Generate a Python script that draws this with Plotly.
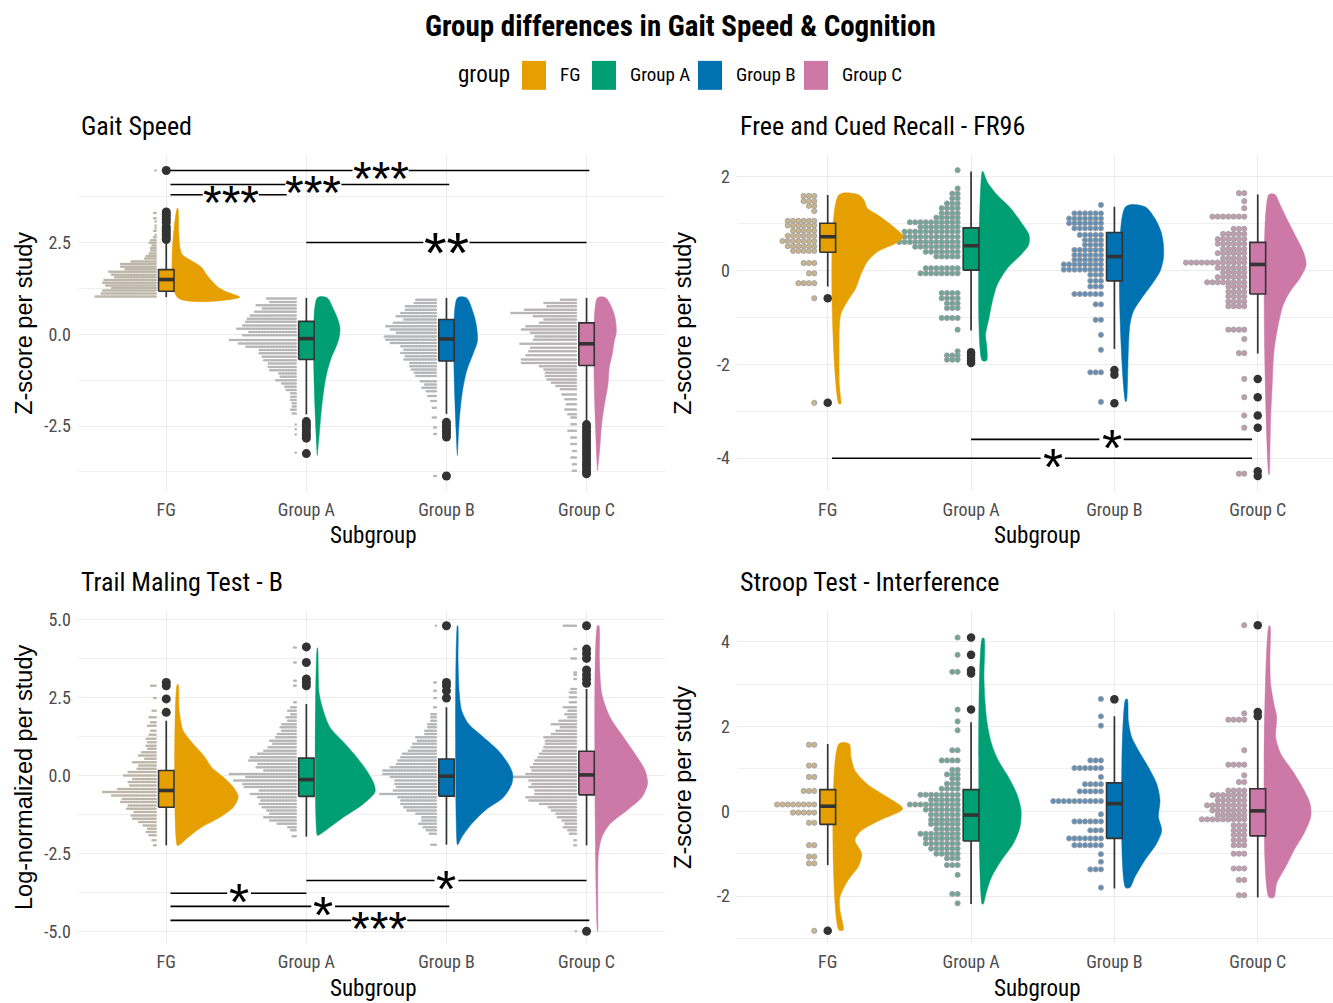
import plotly.graph_objects as go

W, H = 1333, 1003
GROUPS = ["FG", "Group A", "Group B", "Group C"]
GROUP_COLORS = ["#E69F00", "#009E73", "#0072B2", "#CC79A7"]
DENSE_DOT_COLORS = ["#bdb6a8", "#b6b6b6", "#b4b6b9", "#b9b4b6"]
DOT_FILLS = ["#c9b48c", "#6ea596", "#5f8fb8", "#c29cb0"]

# ---------------- Gait Speed ----------------
# box stats: lower whisker, q1, median, q3, upper whisker
GAIT_BOX = {
    "FG": [1.01, 1.17, 1.49, 1.76, 2.52],
    "Group A": [-2.18, -0.69, -0.12, 0.35, 0.99],
    "Group B": [-2.17, -0.73, -0.13, 0.40, 0.99],
    "Group C": [-2.41, -0.85, -0.26, 0.31, 0.99],
}
GAIT_OUT = {
    "FG": [2.58, 2.65, 2.72, 2.79, 2.86, 2.93, 3.05, 3.13, 3.20, 3.27, 3.33, 4.46],
    "Group A": [-2.38, -2.45, -2.52, -2.60, -2.68, -2.75, -2.83, -3.25],
    "Group B": [-2.40, -2.48, -2.56, -2.64, -2.72, -2.80, -3.86],
    "Group C": [-2.46, -2.55, -2.64, -2.73, -2.82, -2.91, -3.00, -3.09, -3.18,
                -3.27, -3.36, -3.45, -3.54, -3.63, -3.72, -3.80],
}
GAIT_VIO_Y = {
    "FG": [3.43, 2.71, 2.35, 2.17, 2.07, 1.94, 1.80, 1.62, 1.44, 1.30, 1.17, 1.01],
    "Group A": [0.99, 0.71, 0.44, 0.17, -0.10, -0.37, -0.64, -1.01, -1.37, -1.82, -2.27, -2.73, -3.00, -3.30],
    "Group B": [0.99, 0.62, 0.26, -0.19, -0.55, -1.00, -1.55, -2.27, -3.00, -3.30],
    "Group C": [0.99, 0.54, 0.08, -0.19, -0.55, -0.91, -1.37, -1.82, -2.45, -3.18, -3.72],
}
GAIT_VIO_D = {
    "FG": [0.005, 0.012, 0.02, 0.036, 0.071, 0.13, 0.18, 0.21, 0.25, 0.286, 0.343, 0.448],
    "Group A": [0.071, 0.112, 0.143, 0.162, 0.155, 0.131, 0.10, 0.071, 0.052, 0.036, 0.024, 0.014, 0.007, 0.0],
    "Group B": [0.066, 0.11, 0.135, 0.143, 0.11, 0.066, 0.036, 0.015, 0.004, 0.0],
    "Group C": [0.06, 0.12, 0.135, 0.12, 0.105, 0.084, 0.075, 0.054, 0.03, 0.015, 0.0],
}
GAIT_DOT_Y = {
    "FG": [1.03, 1.11, 1.19, 1.26, 1.33, 1.40, 1.48, 1.55, 1.62, 1.70, 1.77, 1.84, 1.91, 1.98, 2.06,
           2.13, 2.20, 2.28, 2.35, 2.42, 2.49, 2.56, 2.64, 2.71, 2.82, 2.89, 2.96, 3.07, 3.16, 3.30, 4.46],
    "Group A": [0.97, 0.88, 0.79, 0.70, 0.61, 0.51, 0.42, 0.34, 0.24, 0.15, 0.06, -0.03, -0.16, -0.25,
                -0.34, -0.43, -0.52, -0.61, -0.71, -0.80, -0.89, -0.98, -1.07, -1.16, -1.25, -1.34,
                -1.43, -1.52, -1.61, -1.70, -1.79, -1.88, -1.97, -2.06, -2.16, -2.46, -2.59, -2.73, -3.23],
    "Group B": [0.94, 0.85, 0.76, 0.67, 0.58, 0.49, 0.40, 0.31, 0.22, 0.13, 0.04, -0.06, -0.15, -0.24,
                -0.33, -0.42, -0.51, -0.60, -0.69, -0.78, -0.87, -0.96, -1.05, -1.14, -1.28, -1.37,
                -1.46, -1.55, -1.68, -1.82, -2.00, -2.27, -2.54, -2.72, -3.86],
    "Group C": [0.94, 0.85, 0.76, 0.67, 0.58, 0.49, 0.40, 0.31, 0.22, 0.13, 0.04, -0.06, -0.15, -0.26,
                -0.37, -0.46, -0.57, -0.69, -0.78, -0.87, -0.96, -1.05, -1.14, -1.23, -1.32, -1.41,
                -1.50, -1.64, -1.77, -1.91, -2.05, -2.18, -2.27, -2.45, -2.63, -2.81, -2.99, -3.18,
                -3.36, -3.54, -3.72],
}
GAIT_DOT_N = {
    "FG": [41, 37, 36, 30, 34, 36, 35, 28, 30, 32, 21, 24, 24, 17, 8, 7, 5, 4, 4, 3, 5, 4, 2, 1, 2, 1, 1, 1, 2, 2, 1],
    "Group A": [20, 18, 27, 23, 28, 31, 33, 34, 36, 40, 32, 36, 45, 39, 34, 25, 25, 23, 22, 19, 19, 18,
                12, 11, 14, 10, 8, 7, 4, 4, 4, 3, 3, 4, 3, 1, 1, 1, 1],
    "Group B": [14, 15, 21, 21, 24, 27, 22, 29, 34, 31, 27, 35, 34, 31, 24, 22, 24, 21, 22, 18, 18, 17,
                15, 14, 11, 8, 10, 7, 6, 4, 3, 3, 2, 2, 2],
    "Group C": [11, 22, 20, 35, 44, 29, 22, 25, 34, 37, 31, 28, 29, 38, 31, 32, 34, 37, 37, 25, 22, 21,
                21, 20, 17, 14, 11, 10, 8, 7, 8, 6, 4, 4, 6, 4, 4, 3, 4, 3, 3],
}
# comparisons: (x from, x to, y, label, label x)
GAIT_TESTS = [(1.03, 4.02, 4.46, "***", 2.53), (1.03, 3.02, 4.08, "***", 2.05),
              (1.03, 1.86, 3.80, "***", 1.46), (2.0, 4.0, 2.5, "**", 3.0)]

# ---------------- Free and Cued Recall ----------------
FR_BOX = {
    "FG": [-0.34, 0.39, 0.72, 1.01, 1.61],
    "Group A": [-1.28, 0.01, 0.53, 0.91, 2.11],
    "Group B": [-1.67, -0.22, 0.30, 0.81, 1.36],
    "Group C": [-1.77, -0.50, 0.13, 0.60, 1.62],
}
FR_OUT = {
    "FG": [-0.59, -2.82],
    "Group A": [-1.74, -1.80, -1.86, -1.92, -1.97],
    "Group B": [-2.12, -2.22, -2.83],
    "Group C": [-2.31, -2.70, -3.09, -3.35, -4.28, -4.38],
}
FR_VIO_Y = {
    "FG": [1.61, 1.50, 1.33, 1.19, 1.01, 0.83, 0.72, 0.58, 0.40, 0.19, -0.09, -0.38, -0.66, -0.94,
           -1.23, -1.72, -2.43, -2.79, -2.84],
    "Group A": [2.11, 1.89, 1.61, 1.33, 1.04, 0.76, 0.55, 0.33, 0.05, -0.30, -0.66, -1.01, -1.37,
                -1.58, -1.79, -1.92],
    "Group B": [1.36, 1.11, 0.83, 0.55, 0.26, -0.02, -0.30, -0.59, -0.87, -1.16, -1.72, -2.29, -2.79],
    "Group C": [1.62, 1.41, 1.11, 0.76, 0.40, 0.12, -0.16, -0.45, -0.73, -1.16, -1.72, -2.43, -3.14,
                -3.85, -4.35],
}
FR_VIO_D = {
    "FG": [0.14, 0.175, 0.198, 0.268, 0.35, 0.42, 0.45, 0.396, 0.268, 0.198, 0.152, 0.117, 0.058,
           0.012, 0.003, 0.001, 0.003, 0.014, 0.014],
    "Group A": [0.005, 0.035, 0.105, 0.198, 0.268, 0.326, 0.324, 0.268, 0.175, 0.105, 0.07, 0.047,
                0.023, 0.03, 0.035, 0.03],
    "Group B": [0.135, 0.205, 0.247, 0.264, 0.264, 0.24, 0.182, 0.112, 0.054, 0.03, 0.019, 0.014, 0.005],
    "Group C": [0.042, 0.077, 0.124, 0.182, 0.24, 0.259, 0.217, 0.147, 0.10, 0.065, 0.035, 0.023,
                0.012, 0.007, 0.002],
}
FR_DOT_Y = {
    "FG": [1.59, 1.48, 1.38, 1.27, 1.06, 0.96, 0.85, 0.74, 0.63, 0.52, 0.42, 0.16, -0.06, -0.27, -0.59, -2.82],
    "Group A": [2.14, 1.75, 1.64, 1.54, 1.43, 1.33, 1.22, 1.13, 1.03, 0.93, 0.83, 0.72, 0.61, 0.51,
                0.40, 0.30, 0.05, -0.06, -0.48, -0.59, -0.70, -0.80, -1.01, -1.26, -1.72, -1.81, -1.90],
    "Group B": [1.40, 1.22, 1.11, 1.01, 0.90, 0.76, 0.65, 0.55, 0.44, 0.33, 0.23, 0.13, 0.02, -0.09,
                -0.22, -0.34, -0.50, -0.72, -1.05, -1.37, -1.69, -2.17, -2.80],
    "Group C": [1.65, 1.48, 1.33, 1.15, 0.89, 0.78, 0.67, 0.57, 0.46, 0.37, 0.26, 0.17, 0.06, -0.04,
                -0.14, -0.25, -0.34, -0.45, -0.55, -0.66, -0.76, -1.26, -1.46, -1.76, -2.31, -2.70,
                -3.09, -3.35, -4.33],
}
FR_DOT_N = {
    "FG": [3, 3, 2, 1, 6, 6, 5, 6, 7, 6, 5, 3, 2, 4, 1, 1],
    "Group A": [1, 1, 2, 2, 3, 4, 4, 5, 10, 8, 11, 11, 12, 9, 7, 5, 7, 8, 4, 4, 3, 3, 4, 1, 1, 3, 3],
    "Group B": [1, 6, 7, 7, 6, 5, 4, 4, 6, 6, 6, 8, 8, 3, 3, 3, 6, 2, 2, 1, 1, 3, 1],
    "Group C": [2, 1, 1, 7, 3, 5, 6, 6, 5, 6, 5, 12, 6, 5, 6, 8, 4, 4, 4, 4, 4, 4, 1, 2, 1, 1, 1, 1, 2],
}
FR_TESTS = [(2.0, 3.96, -3.60, "*", 2.98), (1.03, 3.96, -4.0, "*", 2.57)]

# ---------------- Trail Making Test - B ----------------
TMT_BOX = {
    "FG": [-2.24, -1.02, -0.48, 0.16, 1.76],
    "Group A": [-1.96, -0.67, -0.13, 0.56, 2.30],
    "Group B": [-2.22, -0.66, -0.02, 0.53, 2.19],
    "Group C": [-2.24, -0.62, 0.02, 0.78, 2.78],
}
TMT_OUT = {
    "FG": [2.03, 2.46, 2.88, 2.99],
    "Group A": [4.13, 3.63, 3.10, 2.99, 2.88],
    "Group B": [4.81, 2.99, 2.88, 2.72, 2.49],
    "Group C": [4.81, 4.06, 3.92, 3.76, 3.39, 3.24, 3.10, 2.96, -5.0],
}
TMT_VIO_Y = {
    "FG": [2.92, 2.10, 1.44, 1.02, 0.59, 0.27, -0.05, -0.37, -0.69, -1.02, -1.34, -1.66, -1.98, -2.24],
    "Group A": [4.10, 2.62, 2.08, 1.55, 1.02, 0.59, 0.16, -0.27, -0.53, -0.91, -1.34, -1.66, -1.92],
    "Group B": [4.81, 3.69, 2.62, 2.08, 1.66, 1.23, 0.80, 0.37, 0.05, -0.27, -0.70, -1.12, -1.55, -1.98, -2.22],
    "Group C": [4.81, 3.69, 2.62, 1.87, 1.23, 0.69, 0.16, -0.27, -0.70, -1.12, -1.55, -1.98, -2.51,
                -3.04, -4.0, -5.0],
}
TMT_VIO_D = {
    "FG": [0.007, 0.014, 0.043, 0.114, 0.198, 0.245, 0.329, 0.40, 0.436, 0.40, 0.305, 0.174, 0.079, 0.01],
    "Group A": [0.002, 0.014, 0.043, 0.09, 0.198, 0.281, 0.352, 0.405, 0.412, 0.329, 0.186, 0.09, 0.007],
    "Group B": [0.003, 0.005, 0.014, 0.031, 0.079, 0.186, 0.293, 0.364, 0.395, 0.388, 0.329, 0.198,
                0.102, 0.031, 0.003],
    "Group C": [0.01, 0.014, 0.031, 0.09, 0.186, 0.269, 0.34, 0.357, 0.317, 0.21, 0.09, 0.031, 0.007,
                0.003, 0.002, 0.001],
}
TMT_DOT_Y = {
    "FG": [2.88, 2.49, 2.08, 1.87, 1.71, 1.60, 1.44, 1.31, 1.18, 1.07, 0.96, 0.86, 0.75, 0.64, 0.54,
           0.43, 0.32, 0.22, 0.11, 0.0, -0.11, -0.21, -0.32, -0.43, -0.53, -0.64, -0.75, -0.85, -0.96,
           -1.07, -1.17, -1.28, -1.39, -1.49, -1.60, -1.71, -1.81, -1.92, -2.08, -2.24],
    "Group A": [4.11, 3.63, 3.04, 2.88, 2.35, 2.19, 2.08, 1.97, 1.87, 1.76, 1.65, 1.55, 1.44, 1.33,
                1.23, 1.12, 1.02, 0.91, 0.80, 0.70, 0.59, 0.48, 0.37, 0.27, 0.16, 0.05, -0.05, -0.16,
                -0.27, -0.37, -0.48, -0.59, -0.70, -0.80, -0.91, -1.02, -1.12, -1.23, -1.34, -1.44,
                -1.55, -1.66, -1.76, -1.95],
    "Group B": [4.81, 2.99, 2.72, 2.49, 2.19, 1.97, 1.87, 1.76, 1.65, 1.55, 1.44, 1.33, 1.23, 1.12,
                1.02, 0.91, 0.80, 0.70, 0.59, 0.48, 0.37, 0.27, 0.16, 0.05, -0.05, -0.16, -0.27, -0.37,
                -0.48, -0.59, -0.70, -0.80, -0.91, -1.02, -1.12, -1.23, -1.34, -1.44, -1.55, -1.66,
                -1.76, -1.87, -2.22],
    "Group C": [4.81, 4.06, 3.76, 3.31, 3.24, 3.10, 2.78, 2.67, 2.51, 2.35, 2.19, 2.08, 1.97, 1.87,
                1.76, 1.65, 1.55, 1.44, 1.33, 1.23, 1.12, 1.02, 0.91, 0.80, 0.70, 0.59, 0.48, 0.37,
                0.27, 0.16, 0.05, -0.05, -0.16, -0.27, -0.37, -0.48, -0.59, -0.70, -0.80, -0.91,
                -1.02, -1.12, -1.23, -1.34, -1.44, -1.55, -1.66, -1.76, -1.87, -2.08, -2.24, -5.0],
}
TMT_DOT_N = {
    "FG": [4, 2, 3, 5, 4, 6, 4, 5, 7, 6, 7, 6, 10, 12, 8, 16, 12, 13, 19, 22, 16, 19, 18, 26, 36, 30,
           23, 24, 19, 20, 15, 17, 16, 12, 9, 6, 7, 5, 3, 2],
    "Group A": [2, 2, 2, 2, 2, 4, 6, 4, 7, 6, 10, 11, 10, 13, 14, 18, 16, 19, 22, 26, 31, 32, 26, 27,
                22, 45, 34, 42, 36, 35, 25, 31, 26, 24, 25, 23, 20, 18, 22, 18, 13, 6, 4, 3],
    "Group B": [1, 2, 2, 2, 2, 4, 4, 4, 6, 6, 8, 8, 14, 13, 16, 17, 19, 23, 24, 26, 27, 31, 36, 36,
                31, 28, 28, 27, 29, 38, 26, 24, 24, 22, 20, 14, 10, 10, 12, 9, 7, 5, 4],
    "Group C": [9, 2, 4, 2, 2, 2, 4, 5, 5, 5, 9, 6, 8, 6, 12, 17, 11, 14, 17, 22, 21, 21, 22, 23, 25,
                26, 28, 29, 31, 30, 34, 43, 32, 30, 32, 28, 28, 34, 32, 25, 19, 17, 14, 13, 10, 8, 9,
                6, 5, 2, 2, 1],
}
TMT_TESTS = [(2.0, 4.0, -3.37, "*", 3.0), (1.03, 2.0, -3.78, "*", 1.52),
             (1.03, 3.02, -4.20, "*", 2.12), (1.03, 4.02, -4.65, "***", 2.52)]

# ---------------- Stroop Test - Interference ----------------
ST_BOX = {
    "FG": [-1.27, -0.31, 0.12, 0.51, 1.59],
    "Group A": [-2.19, -0.70, -0.09, 0.51, 2.10],
    "Group B": [-1.82, -0.64, 0.18, 0.67, 2.24],
    "Group C": [-2.03, -0.58, 0.01, 0.53, 2.14],
}
ST_OUT = {
    "FG": [-2.82],
    "Group A": [4.10, 3.69, 3.33, 3.25, 2.40],
    "Group B": [2.64],
    "Group C": [4.39, 2.34, 2.24],
}
ST_VIO_Y = {
    "FG": [1.59, 1.28, 0.96, 0.65, 0.34, 0.06, -0.21, -0.45, -0.68, -1.0, -1.31, -1.62, -2.02, -2.33, -2.80],
    "Group A": [4.08, 3.16, 2.61, 2.06, 1.59, 1.20, 0.81, 0.42, 0.02, -0.37, -0.76, -1.15, -1.55, -1.94, -2.19],
    "Group B": [2.64, 2.14, 1.75, 1.44, 1.04, 0.65, 0.26, -0.13, -0.45, -0.76, -1.15, -1.55, -1.80],
    "Group C": [4.37, 3.55, 3.0, 2.53, 2.22, 1.75, 1.36, 0.96, 0.57, 0.18, -0.13, -0.52, -0.92, -1.31,
                -1.70, -2.03],
}
ST_VIO_D = {
    "FG": [0.072, 0.084, 0.112, 0.194, 0.334, 0.445, 0.287, 0.159, 0.112, 0.159, 0.135, 0.065, 0.007,
           0.007, 0.03],
    "Group A": [0.012, 0.012, 0.019, 0.035, 0.065, 0.112, 0.182, 0.24, 0.271, 0.263, 0.217, 0.135,
                0.065, 0.026, 0.007],
    "Group B": [0.012, 0.019, 0.042, 0.089, 0.159, 0.217, 0.24, 0.229, 0.252, 0.217, 0.135, 0.065, 0.03],
    "Group C": [0.007, 0.007, 0.012, 0.035, 0.054, 0.047, 0.082, 0.163, 0.233, 0.287, 0.292, 0.245,
                0.175, 0.117, 0.054, 0.035],
}
ST_DOT_Y = {
    "FG": [1.57, 1.08, 0.81, 0.48, 0.16, -0.03, -0.27, -0.80, -1.07, -1.23, -2.82],
    "Group A": [4.10, 3.69, 3.29, 2.40, 2.12, 1.91, 1.44, 1.20, 0.98, 0.87, 0.77, 0.65, 0.53, 0.39,
                0.27, 0.16, 0.04, -0.08, -0.20, -0.30, -0.42, -0.53, -0.64, -0.76, -0.88, -1.0, -1.11,
                -1.27, -1.50, -1.95, -2.17],
    "Group B": [2.65, 2.24, 2.02, 1.20, 1.02, 0.81, 0.64, 0.47, 0.24, -0.07, -0.24, -0.45, -0.64,
                -0.80, -1.01, -1.19, -1.37, -1.80],
    "Group C": [4.39, 2.31, 2.16, 1.44, 1.10, 0.85, 0.69, 0.49, 0.38, 0.26, 0.14, 0.02, -0.09, -0.19,
                -0.33, -0.45, -0.56, -0.68, -0.80, -1.0, -1.35, -1.62, -1.98],
}
ST_DOT_N = {
    "FG": [2, 2, 2, 3, 8, 5, 2, 2, 2, 2, 1],
    "Group A": [1, 1, 2, 1, 1, 1, 2, 4, 2, 3, 2, 3, 4, 8, 6, 10, 7, 6, 6, 6, 5, 8, 7, 7, 6, 5, 3, 3, 1, 2, 1],
    "Group B": [1, 1, 1, 3, 6, 1, 4, 5, 10, 1, 6, 3, 7, 6, 1, 1, 3, 1],
    "Group C": [1, 1, 4, 1, 4, 1, 2, 4, 7, 6, 8, 7, 6, 9, 3, 3, 3, 3, 3, 3, 3, 2, 2],
}
ST_TESTS = []

# ---------------- styling / layout ----------------
NARROW = "Roboto Condensed, Liberation Sans Narrow, Arial Narrow, Liberation Sans, Arial, sans-serif"
REGULAR = "Liberation Sans, Arial, sans-serif"
STARFONT = "Liberation Sans, Arial, sans-serif"
GRID = "#ebebeb"
INK = "#333333"
BOX_HALF = 0.055
VIO_OFF = 0.078
STAR_SIZE = {"*": 52, "**": 58, "***": 48}
STAR_GAP = {"*": 0.085, "**": 0.165, "***": 0.2}


def px(x):
    return x / W


def py(y):
    return 1 - y / H


def nfont(size, color="black", **kw):
    return dict(family=NARROW, size=size, color=color, **kw)


PANELS = [
    dict(title="Gait Speed", ytitle="Z-score per study", box=GAIT_BOX, out=GAIT_OUT,
         vy=GAIT_VIO_Y, vd=GAIT_VIO_D, dy=GAIT_DOT_Y, dn=GAIT_DOT_N, tests=GAIT_TESTS,
         dense=True, pix=(78, 665, 153, 490), xr=[0.37, 4.56], yr=[-4.27, 4.89],
         yt=[-2.5, 0, 2.5], ytt=["-2.5", "0.0", "2.5"], ym=[-3.75, -1.25, 1.25, 3.75]),
    dict(title="Free and Cued Recall - FR96", ytitle="Z-score per study", box=FR_BOX, out=FR_OUT,
         vy=FR_VIO_Y, vd=FR_VIO_D, dy=FR_DOT_Y, dn=FR_DOT_N, tests=FR_TESTS,
         dense=False, pix=(737, 1333, 153, 490), xr=[0.367, 4.525], yr=[-4.70, 2.47],
         yt=[-4, -2, 0, 2], ytt=["-4", "-2", "0", "2"], ym=[-3, -1, 1]),
    dict(title="Trail Maling Test - B", ytitle="Log-normalized per study", box=TMT_BOX, out=TMT_OUT,
         vy=TMT_VIO_Y, vd=TMT_VIO_D, dy=TMT_DOT_Y, dn=TMT_DOT_N, tests=TMT_TESTS,
         dense=True, pix=(78, 665, 610, 943), xr=[0.37, 4.56], yr=[-5.38, 5.29],
         yt=[-5, -2.5, 0, 2.5, 5], ytt=["-5.0", "-2.5", "0.0", "2.5", "5.0"],
         ym=[-3.75, -1.25, 1.25, 3.75]),
    dict(title="Stroop Test - Interference", ytitle="Z-score per study", box=ST_BOX, out=ST_OUT,
         vy=ST_VIO_Y, vd=ST_VIO_D, dy=ST_DOT_Y, dn=ST_DOT_N, tests=ST_TESTS,
         dense=False, pix=(737, 1333, 610, 943), xr=[0.367, 4.525], yr=[-3.11, 4.73],
         yt=[-2, 0, 2, 4], ytt=["-2", "0", "2", "4"], ym=[-3, -1, 1, 3]),
]

fig = go.Figure()
annotations = []
shapes = []
layout_axes = {}

for i, P in enumerate(PANELS, start=1):
    sfx = "" if i == 1 else str(i)
    xa, ya = "x" + sfx, "y" + sfx
    l, r, t, b = P["pix"]
    layout_axes["xaxis" + sfx] = dict(
        domain=[px(l), px(r)], range=P["xr"], anchor=ya, tickmode="array",
        tickvals=[1, 2, 3, 4], ticktext=GROUPS, showgrid=True, gridcolor=GRID, gridwidth=1.4,
        zeroline=False, showline=False, ticks="", ticklabelstandoff=6,
        tickfont=nfont(18, "#4d4d4d"), fixedrange=True)
    layout_axes["yaxis" + sfx] = dict(
        domain=[py(b), py(t)], range=P["yr"], anchor=xa, tickmode="array",
        tickvals=P["yt"], ticktext=P["ytt"], showgrid=True, gridcolor=GRID, gridwidth=1.4,
        zeroline=False, showline=False, ticks="", ticklabelstandoff=6,
        tickfont=nfont(18, "#4d4d4d"), fixedrange=True,
        minor=dict(tickmode="array", tickvals=P["ym"], showgrid=True, gridcolor="#f0f0f0",
                   gridwidth=1.1, ticks=""))

    dense = P["dense"]
    dot_off = 0.076 if dense else 0.094
    dot_dx = 0.0107 if dense else 0.037

    # dots (left half)
    for gi, g in enumerate(GROUPS):
        c = gi + 1
        xs, ys = [], []
        for yv, n in zip(P["dy"][g], P["dn"][g]):
            for k in range(n):
                xs.append(c - dot_off - k * dot_dx)
                ys.append(yv)
        if dense:
            mk = dict(size=2.5, color=DENSE_DOT_COLORS[gi], line=dict(width=0))
        else:
            mk = dict(size=5.2, color=DOT_FILLS[gi], line=dict(width=0.9, color="#a3a3a3"))
        fig.add_trace(go.Scatter(x=xs, y=ys, mode="markers", marker=mk, xaxis=xa, yaxis=ya,
                                 showlegend=False, hoverinfo="skip"))

    # half violins (right half)
    for gi, g in enumerate(GROUPS):
        c = gi + 1
        vy, vd = P["vy"][g], P["vd"][g]
        base = c + VIO_OFF
        xs = [base + d for d in vd] + [base, base, base + vd[0]]
        ys = list(vy) + [vy[-1], vy[0], vy[0]]
        fig.add_trace(go.Scatter(x=xs, y=ys, mode="lines", fill="toself",
                                 fillcolor=GROUP_COLORS[gi],
                                 line=dict(color=GROUP_COLORS[gi], width=0.5, shape="spline",
                                           smoothing=0.8),
                                 xaxis=xa, yaxis=ya, showlegend=False, hoverinfo="skip"))

    # boxes
    wx, wy, mx, my = [], [], [], []
    for gi, g in enumerate(GROUPS):
        c = gi + 1
        lo, q1, med, q3, hi = P["box"][g]
        wx += [c, c, None, c, c, None]
        wy += [hi, q3, None, q1, lo, None]
        mx += [c - BOX_HALF, c + BOX_HALF, None]
        my += [med, med, None]
        fig.add_trace(go.Scatter(
            x=[c - BOX_HALF, c + BOX_HALF, c + BOX_HALF, c - BOX_HALF, c - BOX_HALF],
            y=[q1, q1, q3, q3, q1], mode="lines", fill="toself", fillcolor=GROUP_COLORS[gi],
            line=dict(color=INK, width=1.6), xaxis=xa, yaxis=ya, showlegend=False,
            hoverinfo="skip"))
    fig.add_trace(go.Scatter(x=wx, y=wy, mode="lines", line=dict(color=INK, width=1.7),
                             xaxis=xa, yaxis=ya, showlegend=False, hoverinfo="skip"))
    fig.add_trace(go.Scatter(x=mx, y=my, mode="lines", line=dict(color=INK, width=3.6),
                             xaxis=xa, yaxis=ya, showlegend=False, hoverinfo="skip"))

    # outliers
    ox, oy = [], []
    for gi, g in enumerate(GROUPS):
        for v in P["out"][g]:
            ox.append(gi + 1)
            oy.append(v)
    fig.add_trace(go.Scatter(x=ox, y=oy, mode="markers",
                             marker=dict(size=9 if dense else 8.5, color=INK, line=dict(width=0)),
                             xaxis=xa, yaxis=ya, showlegend=False, hoverinfo="skip"))

    # significance brackets
    for (x0, x1, yv, lab, xl) in P["tests"]:
        gap = STAR_GAP[lab]
        fig.add_trace(go.Scatter(x=[x0, xl - gap, None, xl + gap, x1], y=[yv, yv, None, yv, yv],
                                 mode="lines", line=dict(color="black", width=1.6),
                                 xaxis=xa, yaxis=ya, showlegend=False, hoverinfo="skip"))
        fs = STAR_SIZE[lab]
        annotations.append(dict(x=xl, y=yv, xref=xa, yref=ya, text=lab, showarrow=False,
                                xanchor="center", yanchor="middle", yshift=-0.17 * fs,
                                font=dict(family=STARFONT, size=fs, color="black")))

    # panel title and axis titles
    annotations.append(dict(x=px(l + 1), y=py(t - 29), xref="paper", yref="paper",
                            text=P["title"], showarrow=False, xanchor="left", yanchor="middle",
                            font=nfont(26)))
    annotations.append(dict(x=px((l + r) / 2 + 2), y=py(b + 45), xref="paper", yref="paper",
                            text="Subgroup", showarrow=False, xanchor="center", yanchor="middle",
                            font=nfont(23)))
    annotations.append(dict(x=px(l - 54), y=py((t + b) / 2 + 1), xref="paper", yref="paper",
                            text=P["ytitle"], showarrow=False, textangle=-90, xanchor="center",
                            yanchor="middle", font=dict(family=REGULAR, size=23.5, color="black")))

# main title
annotations.append(dict(x=px(680), y=py(24), xref="paper", yref="paper",
                        text="Group differences in Gait Speed &amp; Cognition", showarrow=False,
                        xanchor="center", yanchor="middle", font=nfont(29, weight="bold")))
# legend
annotations.append(dict(x=px(484), y=py(73), xref="paper", yref="paper", text="group",
                        showarrow=False, xanchor="center", yanchor="middle", font=nfont(23)))
LEG_KEY_X = [522, 592, 698, 804]
for gi, g in enumerate(GROUPS):
    x0 = LEG_KEY_X[gi]
    shapes.append(dict(type="rect", xref="paper", yref="paper", x0=px(x0), x1=px(x0 + 24),
                       y0=py(88), y1=py(59), fillcolor=GROUP_COLORS[gi], line=dict(width=0)))
    annotations.append(dict(x=px(x0 + 36), y=py(73), xref="paper", yref="paper", text=g,
                            showarrow=False, xanchor="left", yanchor="middle", font=nfont(19)))

fig.update_layout(
    width=W, height=H, autosize=False, margin=dict(l=0, r=0, t=0, b=0),
    paper_bgcolor="white", plot_bgcolor="white", showlegend=False,
    annotations=annotations, shapes=shapes, **layout_axes)

fig.write_html("out.html", include_plotlyjs=True, full_html=True,
               config={"displayModeBar": False},
               post_script="document.body.style.margin='0';")
